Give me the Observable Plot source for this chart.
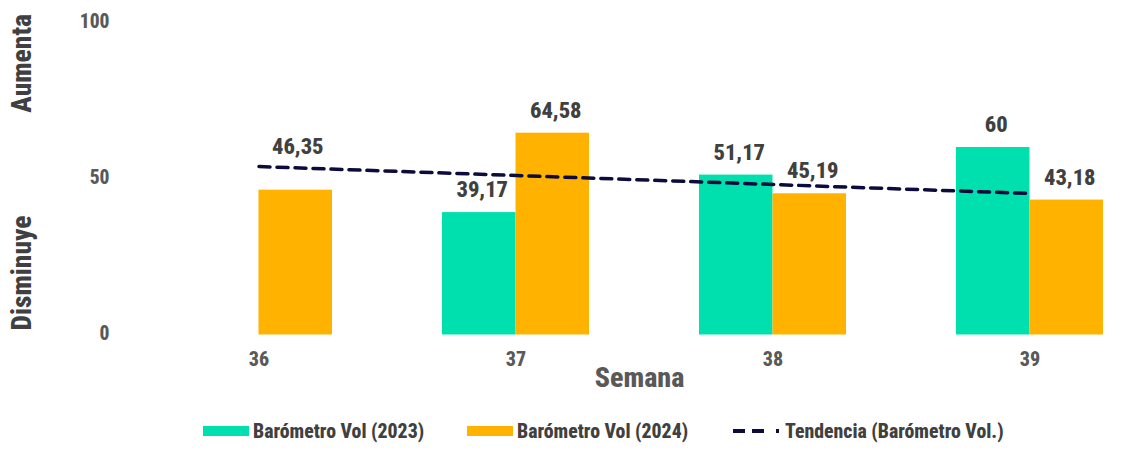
<!DOCTYPE html>
<html>
<head>
<meta charset="utf-8">
<script src="https://cdn.jsdelivr.net/npm/d3@7"></script>
<script src="https://cdn.jsdelivr.net/npm/@observablehq/plot@0.6"></script>
<style>
  html, body { margin: 0; padding: 0; background: #fff; }
  body { width: 1148px; height: 450px; overflow: hidden; font-family: Roboto, sans-serif; font-weight: 800; font-stretch: 75%; }
  #legend { position: relative; height: 38px; color: #404040; font-size: 19.8px; font-family: Roboto, sans-serif; font-stretch: 75%; font-weight: 800; }
  .item { position: absolute; top: 0; height: 38px; display: flex; align-items: center; white-space: nowrap; }
  .sw { width: 46px; height: 10px; margin-right: 4px; }
  svg text { font-stretch: 75%; }
</style>
</head>
<body>
<div id="chart"></div>
<div id="legend"></div>
<script>
const weeks = ["36", "37", "38", "39"];
const seriesNames = ["Barómetro Vol (2023)", "Barómetro Vol (2024)"];
const values2023 = [null, 39.17, 51.17, 60];
const values2024 = [46.35, 64.58, 45.19, 43.18];
const trendName = "Tendencia (Barómetro Vol.)";
const trendWeeks = ["36", "39"];
const trendValues = [53.9, 45.3];
const yTicks = [0, 50, 100];
const colors = ["#00DFAE", "#FFB300"];
const trendColor = "#0B0B3D";

const rows23 = [], rows24 = [];
weeks.forEach((w, i) => {
  if (values2023[i] != null) rows23.push({week: w, value: values2023[i]});
  if (values2024[i] != null) rows24.push({week: w, value: values2024[i]});
});
const trend = trendWeeks.map((w, i) => ({week: w, value: trendValues[i]}));
const fmt = v => String(v).replace(".", ",");
const half = 147 / 2;

const font = 'Roboto, sans-serif';

const plot = Plot.plot({
  width: 1148,
  height: 412,
  marginLeft: 130,
  marginRight: 0,
  marginTop: 22,
  marginBottom: 77.5,
  style: {fontFamily: font, fontWeight: 800, background: "#fff", overflow: "visible"},
  x: {domain: weeks, range: [130, 1158], paddingInner: 0.428, paddingOuter: 0.214, axis: null},
  y: {domain: [0, 100], axis: null},
  marks: [
    Plot.barY(rows23, {x: "week", y: "value", fill: colors[0], insetRight: half}),
    Plot.barY(rows24, {x: "week", y: "value", fill: colors[1], insetLeft: half}),
    Plot.ruleY([0], {x1: 130, x2: 1148, stroke: "#D9D9D9", strokeWidth: 1.5}),
    Plot.axisX({tickSize: 0, tickPadding: 17, fontSize: 20, fill: "#595959", label: null}),
    Plot.axisY(yTicks, {tickSize: 0, tickPadding: 21, fontSize: 19.5, fill: "#595959", label: null, dy: -1}),
    Plot.line(trend, {x: "week", y: "value", stroke: trendColor, strokeWidth: 3.5, strokeDasharray: "11,7"}),
    Plot.text(rows23, {x: "week", y: "value", text: d => fmt(d.value), dx: -half / 2 + 3, dy: -22.5, fontSize: 22.5, fill: "#404040"}),
    Plot.text(rows24.filter(d => d.week !== "36"), {x: "week", y: "value", text: d => fmt(d.value), dx: half / 2 + 3, dy: -22.5, fontSize: 22.5, fill: "#404040"}),
    Plot.text(rows24.filter(d => d.week === "36"), {x: "week", y: "value", text: d => fmt(d.value), dx: half / 2 + 2, dy: -43.5, fontSize: 22.5, fill: "#404040"}),
    Plot.text(["Semana"], {frameAnchor: "bottom", dy: 52, fontSize: 28, fill: "#595959"}),
    Plot.text(["Aumenta"], {frameAnchor: "top-left", textAnchor: "middle", lineAnchor: "middle", dx: -108, dy: 41, rotate: -90, fontSize: 27.5, fill: "#404040"}),
    Plot.text(["Disminuye"], {frameAnchor: "bottom-left", textAnchor: "middle", lineAnchor: "middle", dx: -108, dy: -62, rotate: -90, fontSize: 27.5, fill: "#404040"})
  ]
});
document.getElementById("chart").appendChild(plot);

// legend
const legend = d3.select("#legend");
const items = [
  {label: seriesNames[0], color: colors[0], type: "bar", left: 203},
  {label: seriesNames[1], color: colors[1], type: "bar", left: 467},
  {label: trendName, color: trendColor, type: "dash", left: 733}
];
items.forEach(it => {
  const el = legend.append("div").attr("class", "item").style("left", it.left + "px");
  if (it.type === "bar") {
    el.append("div").attr("class", "sw").style("background", it.color);
  } else {
    const s = el.append("svg").attr("width", 48).attr("height", 10).style("margin-right", "4px");
    s.append("line").attr("x1", 0).attr("x2", 48).attr("y1", 5).attr("y2", 5)
      .attr("stroke", it.color).attr("stroke-width", 4).attr("stroke-dasharray", "12,7,12,12,3,100");
  }
  el.append("span").text(it.label);
});
</script>
</body>
</html>
